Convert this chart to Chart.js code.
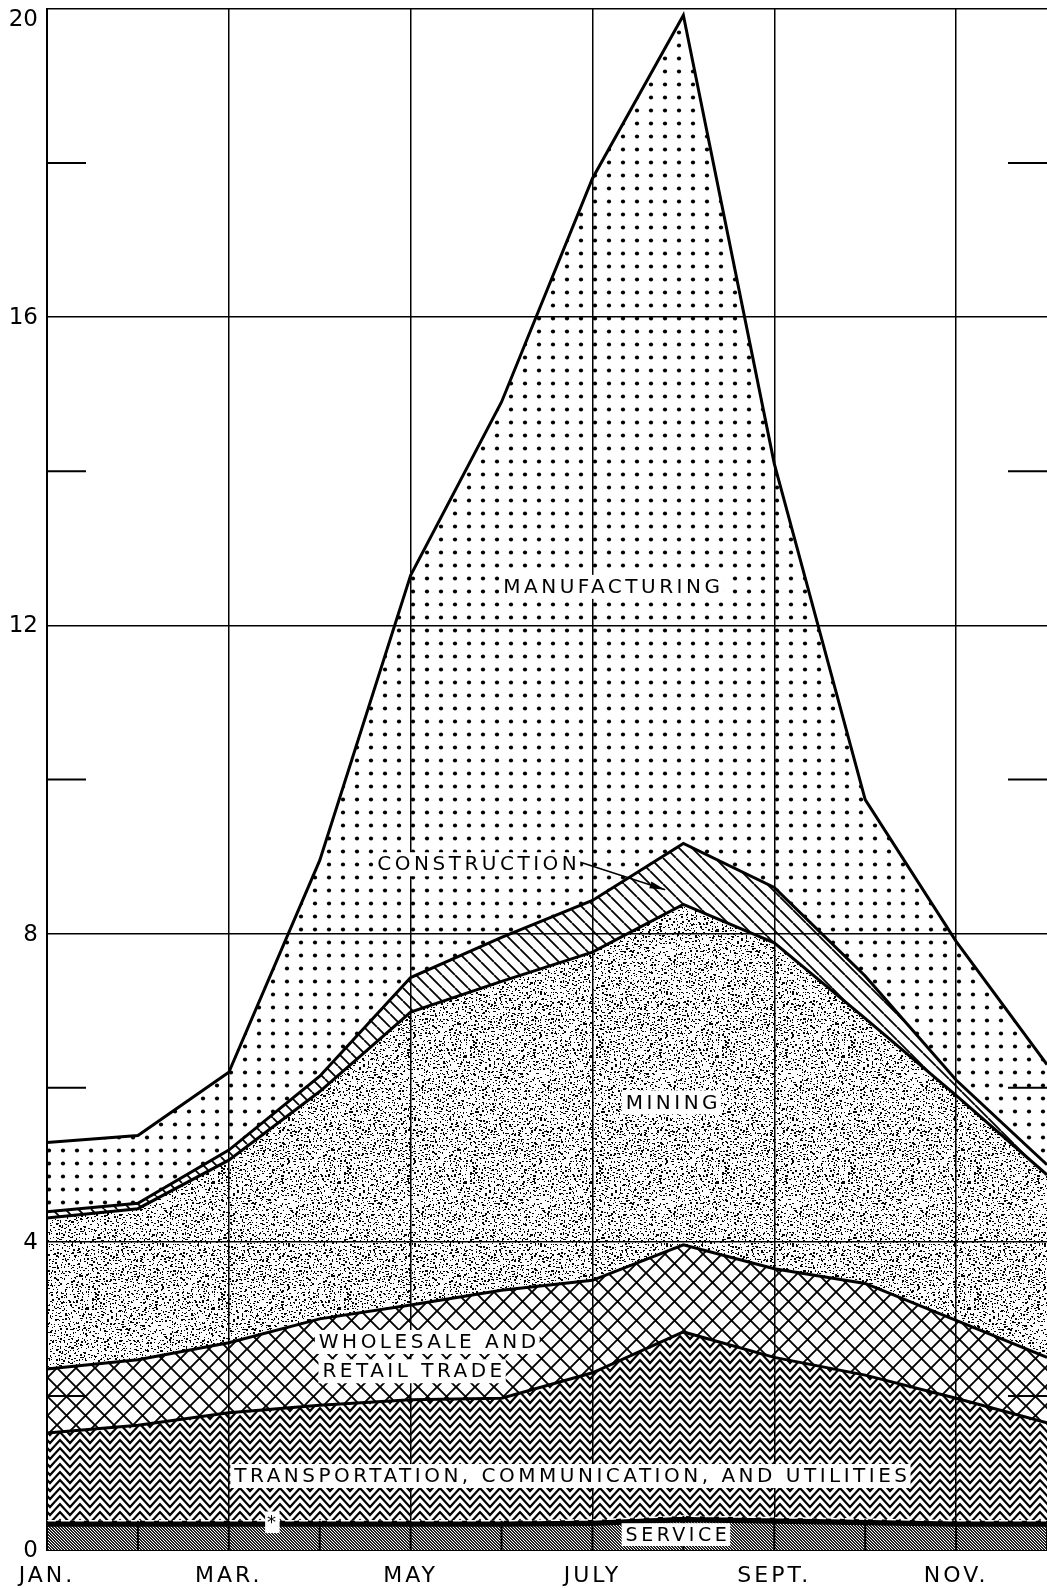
<!DOCTYPE html>
<html>
<head>
<meta charset="utf-8">
<script src="https://cdn.jsdelivr.net/npm/chart.js@4.4.1/dist/chart.umd.min.js"></script>
<style>
    html, body { margin: 0; padding: 0; background: #fff; }
    #wrap { width: 1047px; height: 1588px; }
</style>
</head>
<body>
<div id="wrap"><canvas id="myChart" width="1047" height="1588"></canvas></div>
<script>
// months on the x axis, only every other one gets a label
const months = ['JAN', 'FEB', 'MAR', 'APR', 'MAY', 'JUN', 'JUL', 'AUG', 'SEP', 'OCT', 'NOV', 'DEC'];
const monthLabels = ['JAN.', '', 'MAR.', '', 'MAY', '', 'JULY', '', 'SEPT.', '', 'NOV.', ''];
const yTickLabels = [0, 4, 8, 12, 16, 20];

// layers, bottom to top (stacked)
const service = [0.32, 0.32, 0.32, 0.32, 0.32, 0.32, 0.33, 0.38, 0.36, 0.34, 0.32, 0.32];
const other = [0.06, 0.06, 0.06, 0.06, 0.06, 0.06, 0.06, 0.06, 0.06, 0.06, 0.06, 0.06];
const transportation = [1.14, 1.24, 1.40, 1.50, 1.57, 1.59, 1.91, 2.39, 2.08, 1.87, 1.59, 1.27];
const wholesaleRetail = [0.83, 0.85, 0.91, 1.12, 1.23, 1.40, 1.20, 1.13, 1.15, 1.19, 1.01, 0.85];
const mining = [1.96, 1.96, 2.37, 2.95, 3.80, 4.01, 4.26, 4.42, 4.23, 3.44, 2.92, 2.37];
const construction = [0.08, 0.07, 0.13, 0.20, 0.45, 0.57, 0.67, 0.79, 0.72, 0.55, 0.20, 0.13];
const manufacturing = [0.90, 0.88, 1.01, 2.80, 5.22, 6.95, 9.37, 10.75, 5.50, 2.29, 1.80, 1.30];

// text placed inside the areas (x = month index, v = value)
const notes = [
    { text: 'MANUFACTURING', x: 6.23, v: 12.5 },
    { text: 'CONSTRUCTION', x: 4.75, v: 8.9 },
    { text: 'MINING', x: 6.89, v: 5.81 },
    { text: 'WHOLESALE AND', x: 2.99, v: 2.7, align: 'left' },
    { text: 'RETAIL TRADE', x: 3.03, v: 2.32, align: 'left' },
    { text: 'TRANSPORTATION, COMMUNICATION, AND UTILITIES', x: 5.78, v: 0.96 },
    { text: 'SERVICE', x: 6.94, v: 0.2, size: 19 },
    { text: '*', x: 2.49, v: 0.36, size: 18, pad: 2 }
];
const arrow = { from: [5.86, 8.93], to: [6.8, 8.57] };

const FONT = "'DejaVu Sans', sans-serif";
const canvas = document.getElementById('myChart');
const mainCtx = canvas.getContext('2d');

function makePattern(w, h, draw) {
    const c = document.createElement('canvas');
    c.width = w;
    c.height = h;
    draw(c.getContext('2d'), w, h);
    return mainCtx.createPattern(c, 'repeat');
}

const dotsFill = makePattern(14, 13, (g) => {
    g.fillStyle = '#000';
    g.beginPath();
    g.arc(7, 6.5, 2.1, 0, Math.PI * 2);
    g.fill();
});
const hatchFill = makePattern(13, 13, (g, w, h) => {
    g.strokeStyle = '#000';
    g.lineWidth = 1.8;
    g.beginPath();
    for (let k = -1; k <= 1; k++) {
        g.moveTo(k * w, 0);
        g.lineTo(k * w + w, h);
    }
    g.stroke();
});
const crossFill = makePattern(19, 19, (g, w, h) => {
    g.strokeStyle = '#000';
    g.lineWidth = 1.9;
    g.beginPath();
    for (let k = -1; k <= 1; k++) {
        g.moveTo(k * w, 0);
        g.lineTo(k * w + w, h);
        g.moveTo(k * w, h);
        g.lineTo(k * w + w, 0);
    }
    g.stroke();
});
const zigzagFill = makePattern(20, 8, (g, w, h) => {
    g.strokeStyle = '#000';
    g.lineWidth = 2.2;
    g.beginPath();
    for (let k = -3; k <= 2; k++) {
        const y0 = k * h;
        g.moveTo(-1, y0 - 1);
        g.lineTo(w / 2, y0 + 11);
        g.lineTo(w + 1, y0 - 1);
    }
    g.stroke();
});
const stippleFill = makePattern(126, 126, (g, w, h) => {
    let seed = 987654;
    const rnd = () => (seed = (seed * 16807) % 2147483647) / 2147483647;
    g.fillStyle = '#000';
    // one speck per 3x3 cell, jittered, so the texture stays even
    for (let cy = 0; cy < h; cy += 3) {
        for (let cx = 0; cx < w; cx += 3) {
            if (rnd() < 0.1) continue;
            const px = cx + Math.floor(rnd() * 3);
            const py = cy + Math.floor(rnd() * 3);
            g.fillRect(px, py, rnd() < 0.45 ? 2 : 1, rnd() < 0.3 ? 2 : 1);
        }
    }
});
const serviceFill = makePattern(3, 3, (g) => {
    g.fillStyle = '#222';
    g.fillRect(0, 0, 3, 3);
    g.fillStyle = '#fff';
    g.fillRect(0, 0, 1, 1);
    g.fillRect(1, 1, 1, 1);
    g.fillRect(2, 2, 1, 1);
});

function layer(label, data, bg, fill) {
    return {
        label: label,
        data: data,
        backgroundColor: bg,
        borderColor: '#000',
        borderWidth: 3,
        fill: fill,
        pointRadius: 0,
        tension: 0
    };
}

const otherLayer = layer('*', other, '#000', '-1');
otherLayer.borderColor = '#fff';
otherLayer.borderWidth = 1.5;
otherLayer.borderDash = [9, 5];

const decor = {
    id: 'decor',
    beforeDraw(chart) {
        chart.ctx.letterSpacing = '3px';
    },
    afterDatasetsDraw(chart) {
        const { ctx, chartArea: a, scales: { x, y } } = chart;
        ctx.save();
        ctx.strokeStyle = '#000';
        ctx.lineWidth = 2;
        ctx.beginPath();
        // short ticks for the values without a full line
        y.ticks.forEach(t => {
            if (yTickLabels.includes(t.value)) return;
            const py = y.getPixelForValue(t.value);
            ctx.moveTo(a.left, py);
            ctx.lineTo(a.left + 39, py);
            ctx.moveTo(a.right - 39, py);
            ctx.lineTo(a.right, py);
        });
        // month dividers inside the service band
        months.forEach((m, i) => {
            const px = x.getPixelForValue(i);
            ctx.moveTo(px, y.getPixelForValue(0));
            ctx.lineTo(px, y.getPixelForValue(service[i] + other[i]));
        });
        ctx.stroke();

        // arrow from CONSTRUCTION
        const ax = x.getPixelForValue(arrow.from[0]), ay = y.getPixelForValue(arrow.from[1]);
        const bx = x.getPixelForValue(arrow.to[0]), by = y.getPixelForValue(arrow.to[1]);
        ctx.lineWidth = 1.5;
        ctx.beginPath();
        ctx.moveTo(ax, ay);
        ctx.lineTo(bx, by);
        ctx.stroke();
        const ang = Math.atan2(by - ay, bx - ax);
        ctx.fillStyle = '#000';
        ctx.beginPath();
        ctx.moveTo(bx, by);
        ctx.lineTo(bx - 16 * Math.cos(ang - 0.22), by - 16 * Math.sin(ang - 0.22));
        ctx.lineTo(bx - 16 * Math.cos(ang + 0.22), by - 16 * Math.sin(ang + 0.22));
        ctx.closePath();
        ctx.fill();

        // labels on white boxes
        ctx.textBaseline = 'middle';
        notes.forEach(n => {
            const size = n.size || 20;
            ctx.font = size + 'px ' + FONT;
            ctx.letterSpacing = '3.5px';
            const w = ctx.measureText(n.text).width;
            const px = x.getPixelForValue(n.x);
            const py = y.getPixelForValue(n.v);
            const left = n.align === 'left' ? px : px - w / 2;
            const pad = n.pad != null ? n.pad : 4;
            ctx.fillStyle = '#fff';
            ctx.fillRect(left - pad, py - size * 0.6, w + pad, size * 1.2);
            ctx.fillStyle = '#000';
            ctx.textAlign = 'left';
            ctx.fillText(n.text, left, py + 1);
        });

        // y tick labels; the top one is kept inside the canvas
        ctx.font = '23px ' + FONT;
        ctx.letterSpacing = '0px';
        ctx.textAlign = 'right';
        yTickLabels.forEach(v => {
            const py = Math.max(y.getPixelForValue(v), 19);
            ctx.fillText(String(v), a.left - 9, py + 1);
        });
        ctx.restore();
    }
};

new Chart(canvas, {
    type: 'line',
    data: {
        labels: months,
        datasets: [
            layer('SERVICE', service, serviceFill, 'origin'),
            otherLayer,
            layer('TRANSPORTATION, COMMUNICATION, AND UTILITIES', transportation, zigzagFill, '-1'),
            layer('WHOLESALE AND RETAIL TRADE', wholesaleRetail, crossFill, '-1'),
            layer('MINING', mining, stippleFill, '-1'),
            layer('CONSTRUCTION', construction, hatchFill, '-1'),
            layer('MANUFACTURING', manufacturing, dotsFill, '-1')
        ]
    },
    options: {
        responsive: false,
        animation: false,
        devicePixelRatio: 1,
        layout: { padding: { top: 9, right: 0, left: 0, bottom: 0 } },
        plugins: {
            legend: { display: false },
            tooltip: { enabled: false }
        },
        scales: {
            x: {
                offset: false,
                afterFit: (scale) => {
                    scale.height = 38;
                    scale.paddingLeft = 0;
                    scale.paddingRight = 0;
                },
                grid: {
                    drawTicks: false,
                    lineWidth: 1.5,
                    color: (c) => (c.index % 2 === 0 ? '#000' : 'rgba(0,0,0,0)')
                },
                border: { display: true, color: '#000', width: 2 },
                ticks: {
                    autoSkip: false,
                    maxRotation: 0,
                    padding: 13,
                    color: '#000',
                    font: { family: FONT, size: 22 },
                    callback: (v, i) => monthLabels[i]
                }
            },
            y: {
                stacked: true,
                min: 0,
                max: 20,
                afterFit: (scale) => {
                    scale.width = 47;
                    scale.paddingTop = 0;
                    scale.paddingBottom = 0;
                },
                grid: {
                    drawTicks: false,
                    lineWidth: 1.5,
                    color: (c) => (yTickLabels.includes(c.tick.value) ? '#000' : 'rgba(0,0,0,0)')
                },
                border: { display: true, color: '#000', width: 2 },
                ticks: {
                    stepSize: 2,
                    display: false
                }
            }
        }
    },
    plugins: [decor]
});
</script>
</body>
</html>
